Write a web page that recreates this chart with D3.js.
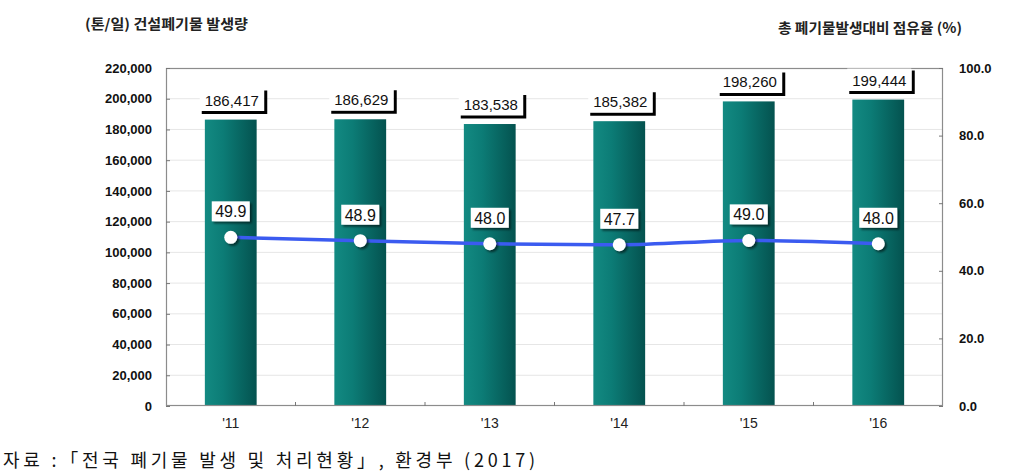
<!DOCTYPE html>
<html><head><meta charset="utf-8">
<script src="https://cdn.jsdelivr.net/npm/d3@7"></script>
<style>body{margin:0;background:#fff}svg{display:block}</style>
</head><body>
<svg id="c" width="1022" height="474"></svg>
<script>
const categories = ["'11","'12","'13","'14","'15","'16"];
const amounts = [186417,186629,183538,185382,198260,199444];
const shares = [49.9,48.9,48.0,47.7,49.0,48.0];
const leftTicks = [0,20000,40000,60000,80000,100000,120000,140000,160000,180000,200000,220000];
const rightTicks = [0,20,40,60,80,100];

const svg = d3.select("#c");
const m = {l:166,r:943,t:68,b:406};
const font = "'Liberation Sans', Arial, sans-serif";
const kfont = "'Noto Sans CJK KR', sans-serif";

const x = d3.scaleBand().domain(categories).range([m.l,m.r]).paddingInner(0.6).paddingOuter(0.3);
const yL = d3.scaleLinear().domain([0,220000]).range([m.b,m.t]);
const yR = d3.scaleLinear().domain([0,100]).range([m.b,m.t]);

const defs = svg.append("defs");
const g = defs.append("linearGradient").attr("id","bg").attr("x1","0").attr("x2","1");
g.append("stop").attr("offset","0").attr("stop-color","#138a82");
g.append("stop").attr("offset","0.35").attr("stop-color","#0c7c76");
g.append("stop").attr("offset","1").attr("stop-color","#04524f");
const f = defs.append("filter").attr("id","sh").attr("x","-50%").attr("y","-50%").attr("width","200%").attr("height","200%");
f.append("feDropShadow").attr("dx",2).attr("dy",2).attr("stdDeviation",1.2).attr("flood-color","#000").attr("flood-opacity",0.55);

// gridlines
svg.append("g").selectAll("line").data(leftTicks.slice(1,-1)).join("line")
  .attr("x1",m.l).attr("x2",m.r).attr("y1",d=>yL(d)).attr("y2",d=>yL(d))
  .attr("stroke","#e6e6e6").attr("stroke-width",1);

// bars
svg.append("g").selectAll("rect").data(amounts).join("rect")
  .attr("x",(d,i)=>x(categories[i])).attr("width",x.bandwidth())
  .attr("y",d=>yL(d)).attr("height",d=>m.b-yL(d)).attr("fill","url(#bg)");

// plot frame
svg.append("rect").attr("x",m.l+0.5).attr("y",m.t+0.5).attr("width",m.r-m.l-1).attr("height",m.b-m.t-1)
  .attr("fill","none").attr("stroke","#8c8c8c").attr("stroke-width",1.2);

// left axis
const axL = svg.append("g").attr("transform",`translate(${m.l},0)`)
  .call(d3.axisLeft(yL).tickValues(leftTicks).tickSize(-4).tickPadding(14).tickFormat(d3.format(",")));
axL.select(".domain").remove();
axL.selectAll("line").attr("stroke","#777");
axL.selectAll("text").attr("font-family",font).attr("font-weight","bold").attr("font-size",13).attr("fill","#111");

// right axis
const axR = svg.append("g").attr("transform",`translate(${m.r},0)`)
  .call(d3.axisRight(yR).tickValues(rightTicks).tickSize(-4).tickPadding(16).tickFormat(d3.format(".1f")));
axR.select(".domain").remove();
axR.selectAll("line").attr("stroke","#777");
axR.selectAll("text").attr("font-family",font).attr("font-weight","bold").attr("font-size",13).attr("fill","#111");

// bottom axis
const axB = svg.append("g").attr("transform",`translate(0,${m.b})`)
  .call(d3.axisBottom(x).tickSize(0).tickPadding(12));
axB.select(".domain").remove();
axB.selectAll("text").attr("font-family",font).attr("font-size",14).attr("fill","#222");
// small boundary ticks
const step = x.step();
svg.append("g").selectAll("line").data(categories.slice(1)).join("line")
  .attr("x1",d=>x(d)-(step-x.bandwidth())/2).attr("x2",d=>x(d)-(step-x.bandwidth())/2)
  .attr("y1",m.b).attr("y2",m.b-4).attr("stroke","#777");

// bar value labels
const bl = svg.append("g").selectAll("g").data(amounts).join("g")
  .attr("transform",(d,i)=>`translate(${x(categories[i])+x.bandwidth()/2},${yL(d)-5})`);
bl.append("path").attr("d","M -29 -2 L 35 -2 L 35 -24").attr("fill","none").attr("stroke","#000").attr("stroke-width",3);
bl.append("rect").attr("x",-31).attr("y",-26).attr("width",64).attr("height",22).attr("fill","#fff");
bl.append("text").attr("x",1).attr("y",-9).attr("text-anchor","middle")
  .attr("font-family",font).attr("font-size",15).attr("fill","#111").text(d=>d3.format(",")(d));

// line
const cx = (i)=>x(categories[i])+x.bandwidth()/2;
svg.append("path").datum(shares)
  .attr("d",d3.line().x((d,i)=>cx(i)).y(d=>yR(d)).curve(d3.curveMonotoneX))
  .attr("fill","none").attr("stroke","#3b5bf0").attr("stroke-width",3.5);
svg.append("g").selectAll("circle").data(shares).join("circle")
  .attr("cx",(d,i)=>cx(i)).attr("cy",d=>yR(d)).attr("r",6.5)
  .attr("fill","#fff").attr("filter","url(#sh)");

// point labels
const pl = svg.append("g").selectAll("g").data(shares).join("g")
  .attr("transform",(d,i)=>`translate(${cx(i)},${yR(d)-26})`);
pl.append("rect").attr("x",-19).attr("y",-10).attr("width",38).attr("height",20).attr("fill","#fff").attr("filter","url(#sh)");
pl.append("text").attr("x",0).attr("y",6).attr("text-anchor","middle")
  .attr("font-family",font).attr("font-size",16).attr("fill","#111").text(d=>d.toFixed(1));

// titles
svg.append("text").attr("x",85).attr("y",29).attr("font-family",kfont).attr("font-weight","bold")
  .attr("font-size",14).attr("fill","#222").attr("textLength",163).attr("lengthAdjust","spacingAndGlyphs")
  .text("(톤/일) 건설폐기물 발생량");
svg.append("text").attr("x",778).attr("y",33).attr("font-family",kfont).attr("font-weight","bold")
  .attr("font-size",14).attr("fill","#222").attr("textLength",184).attr("lengthAdjust","spacingAndGlyphs")
  .text("총 폐기물발생대비 점유율 (%)");

// source
svg.append("text").attr("x",3).attr("y",467).attr("font-family",kfont)
  .attr("font-size",18).attr("fill","#111").attr("textLength",532).attr("lengthAdjust","spacing")
  .text("자료 :「전국 폐기물 발생 및 처리현황」, 환경부 (2017)");
</script>
</body></html>
